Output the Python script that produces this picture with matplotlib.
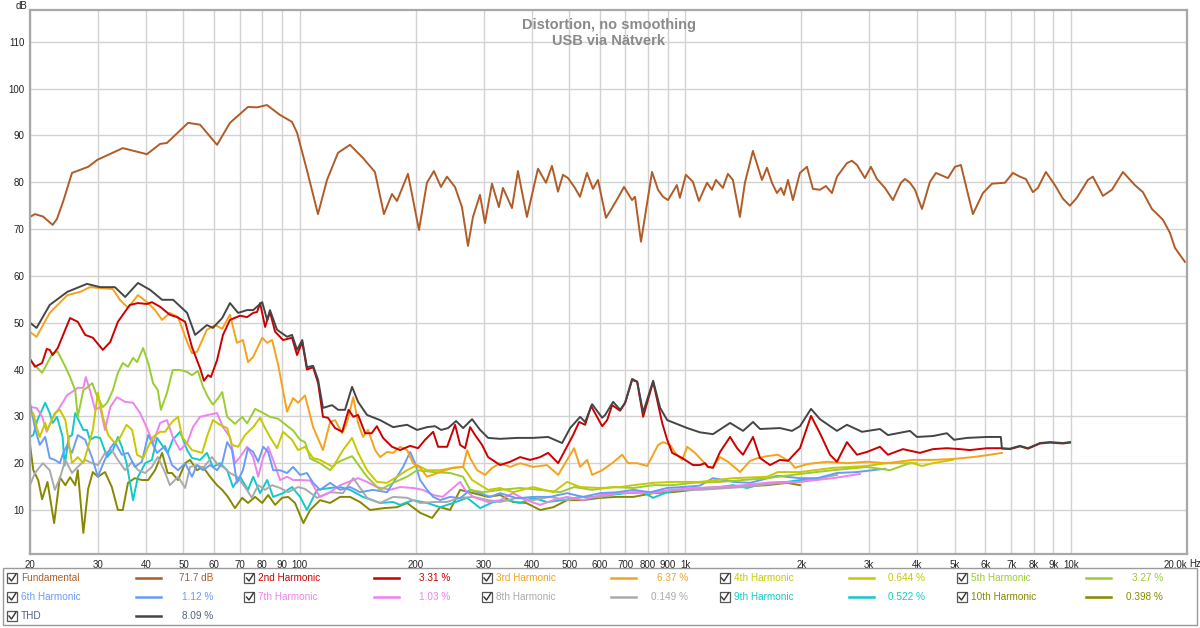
import matplotlib
matplotlib.use("Agg")
import matplotlib.pyplot as plt
from matplotlib.lines import Line2D
from matplotlib.patches import Rectangle

plt.rcParams['font.family'] = ['Liberation Sans', 'DejaVu Sans']

# ── Values (Hz, dB) ──────────────────────────────────────────────────────────
fund_f = [20.0, 20.6, 21.6, 22.9, 23.5, 24.4, 25.7, 28.3, 29.9, 34.8, 40.2, 43.5, 45.3, 51.4, 55.2,
          61.1, 66.0, 73.5, 77.6, 82.3, 88.9, 95.6, 98.5, 104.5, 111.6, 117.8, 125.8, 135.1, 146.0,
          156.8, 165.5, 173.6, 178.9, 191.0, 204.0, 213.9, 223.0, 232.6, 241.1, 252.9, 263.7, 273.3,
          281.6, 293.6, 302.5, 315.4, 328.8, 336.8, 355.4, 368.3, 388.6, 415.1, 435.4, 451.3, 467.8,
          481.9, 496.6, 517.6, 533.4, 556.1, 576.5, 594.0, 623.0, 645.8, 669.4, 693.8, 727.8, 740.9,
          767.9, 820.2, 850.1, 875.9, 902.4, 951.3, 968.5, 1004, 1047, 1085, 1139, 1173, 1201, 1252,
          1290, 1329, 1386, 1428, 1498, 1581, 1629, 1678, 1729, 1771, 1803, 1847, 1902, 1983, 2068,
          2143, 2235, 2316, 2401, 2474, 2626, 2706, 2788, 2923, 3030, 3141, 3294, 3456, 3625, 3713,
          3826, 3942, 4110, 4311, 4468, 4799, 5004, 5186, 5375, 5571, 5914, 6243, 6746, 7072, 7374,
          7643, 7969, 8211, 8613, 9088, 9532, 9938, 10364, 11068, 11403, 12106, 12774, 13643, 14650,
          15367, 16220, 17323, 18063, 18610, 19752]
fund_db = [72.6, 73.2, 72.7, 70.9, 72.2, 76.0, 82.0, 83.3, 84.8, 87.3, 86.0, 88.2, 88.4, 92.7, 92.3,
           88.0, 92.7, 96.1, 96.0, 96.5, 94.4, 92.9, 90.6, 82.6, 73.2, 80.5, 86.3, 88.0, 85.2,
           82.2, 73.2, 77.5, 76.0, 81.8, 69.8, 79.9, 82.4, 79.0, 81.2, 79.0, 74.7, 66.4,
           72.6, 77.3, 71.3, 79.7, 74.7, 78.8, 74.5, 82.4, 72.6, 82.9, 79.9, 83.5, 78.0,
           81.6, 80.9, 78.8, 76.9, 82.0, 78.6, 80.5, 72.4, 74.5, 76.7, 79.0, 76.2, 76.9,
           67.3, 82.2, 78.4, 76.9, 76.2, 79.4, 76.7, 81.6, 80.1, 76.0, 79.9, 78.4, 80.5, 78.8,
           81.8, 80.5, 72.6, 79.9, 86.7, 80.5, 83.1, 79.9, 77.7, 78.8, 77.3, 80.5, 76.2, 82.0, 83.3,
           78.6, 78.4, 79.2, 77.7, 81.2, 84.1, 84.6, 83.7, 80.9, 83.3, 80.7, 78.8, 76.2, 79.9, 80.7,
           79.9, 78.4, 74.3, 80.1, 82.0, 80.9, 83.3, 83.7, 78.4, 73.2, 77.7, 79.7, 79.9, 82.0, 81.2,
           80.7, 77.9, 78.8, 82.2, 79.4, 76.5, 75.0, 76.7, 80.5, 81.2, 77.1, 78.4, 82.2, 79.4,
           77.9, 74.3, 72.0, 69.2, 66.0, 63.0]

thd_f = [20.0, 20.8, 22.5, 25.0, 28.1, 30.4, 33.2, 35.3, 38.1, 41.0, 44.0, 47.0, 51.1, 53.6, 57.5,
         59.6, 63.0, 66.0, 69.3, 73.1, 75.8, 80.0, 82.4, 83.8, 87.4, 92.8, 95.6, 98.5, 101.6, 104.5,
         108.4, 111.7, 115.0, 121.4, 125.9, 131.2, 136.8, 141.8, 149.6, 161.7, 174.8, 190.0, 201.7,
         214.1, 224.6, 232.8, 242.7, 254.6, 265.5, 280.1, 293.9, 308.2, 331.1, 366.5, 403.3, 441.0,
         479.5, 503.0, 533.9, 550.1, 573.6, 609.0, 619.9, 650.2, 678.0, 698.5, 728.3, 750.5, 777.8,
         825.6, 860.9, 897.9, 1012, 1091, 1180, 1307, 1412, 1499, 1563, 1761, 1891, 1984, 2119, 2235,
         2474, 2626, 2873, 3198, 3354, 3825, 3988, 4388, 4770, 4975, 5376, 6058, 6580, 6625, 6950,
         7377, 7738, 8313, 8825, 9537, 9944]
thd_db = [50.0, 48.9, 53.8, 56.6, 58.3, 57.6, 57.6, 55.5, 58.5, 57.0, 54.9, 54.9, 52.1, 47.4, 49.5,
          48.9, 51.0, 54.2, 52.1, 52.7, 52.7, 54.4, 50.6, 52.7, 48.5, 47.0, 47.4, 44.2, 46.3, 40.5,
          40.8, 37.8, 31.8, 32.4, 31.4, 31.4, 36.3, 33.1, 30.3, 29.2, 27.7, 28.2, 27.1,
          27.7, 27.9, 27.1, 27.5, 29.0, 27.5, 29.4, 27.1, 25.4, 25.2, 25.4, 25.4, 25.6,
          24.3, 27.5, 29.9, 28.8, 32.6, 29.7, 30.3, 33.1, 31.4, 32.9, 38.0, 37.4, 30.9,
          37.6, 31.8, 29.2, 27.5, 26.6, 26.2, 28.6, 26.9, 28.8, 27.3, 27.5, 26.9, 27.9, 31.6, 29.4,
          26.9, 28.2, 26.7, 27.3, 26.0, 26.9, 25.6, 25.8, 26.4, 25.0, 25.4, 25.6, 25.6, 23.1, 23.1,
          23.7, 23.2, 24.3, 24.5, 24.3, 24.5]

h2_f = [20.0, 20.6, 21.5, 22.1, 22.5, 22.9, 23.6, 25.4, 26.6, 27.8, 29.1, 30.9, 32.3, 33.8, 36.3,
        38.1, 40.2, 41.4, 43.5, 46.1, 48.1, 50.5, 52.6, 55.2, 56.5, 57.9, 58.9, 61.1, 63.3, 66.0,
        70.1, 73.1, 75.8, 77.6, 79.0, 81.4, 83.8, 86.4, 90.6, 95.6, 98.5, 101.6, 104.5, 108.4, 111.7,
        115.0, 118.5, 123.6, 129.0, 134.0, 137.8, 141.8, 147.9, 153.8, 158.6, 164.6, 173.7, 182.2,
        193.5, 202.9, 211.6, 222.0, 228.7, 241.3, 253.1, 260.8, 268.7, 276.8, 285.2, 297.3, 308.2,
        331.1, 351.5, 373.1, 396.1, 420.5, 441.0, 468.3, 488.2, 511.9, 530.7, 550.1, 570.2, 590.7,
        609.0, 627.4, 646.3, 678.0, 698.5, 728.3, 750.5, 777.8, 825.6, 871.3, 897.9, 925.0, 982,
        1047, 1091, 1125, 1146, 1180, 1231, 1307, 1363, 1412, 1499, 1563, 1659, 1761, 1847, 1984,
        2119, 2235, 2373, 2474, 2626, 2788, 2959, 3198, 3354, 3668, 4060, 4388, 4770, 5156, 5473,
        6058, 6625, 6950, 7377, 7738, 8313, 8825, 9537, 9944]
h2_db = [42.3, 40.6, 41.4, 44.4, 44.2, 43.1, 44.6, 51.0, 50.2, 47.4, 46.8, 44.2, 45.9, 50.2, 53.8,
         54.2, 54.0, 54.4, 53.4, 51.7, 51.2, 50.2, 44.8, 40.3, 37.6, 38.8, 38.4, 42.0, 47.4, 50.6,
         51.5, 51.2, 52.1, 52.3, 54.2, 49.1, 52.3, 48.1, 46.3, 46.8, 43.1, 45.9, 40.0, 40.5, 37.1,
         29.9, 29.7, 27.5, 26.7, 31.4, 29.9, 30.3, 26.4, 26.4, 27.9, 25.4, 23.5, 22.8,
         23.7, 23.2, 25.0, 26.7, 23.5, 23.5, 28.2, 23.9, 23.2, 27.7, 26.0, 23.9, 21.3,
         19.6, 20.3, 21.3, 20.7, 21.3, 22.2, 20.0, 22.8, 26.0, 28.8, 28.2, 32.2, 29.9,
         27.9, 29.2, 32.4, 31.2, 32.9, 37.8, 37.4, 29.9, 37.4, 28.6, 25.0, 22.2, 21.1,
         19.6, 19.6, 20.0, 19.2, 19.0, 22.4, 25.6, 23.2, 21.8, 25.6, 21.1, 19.6, 20.7, 20.5, 23.2,
         30.1, 26.4, 21.8, 20.3, 24.5, 21.8, 22.4, 23.5, 21.8, 23.0, 22.2, 23.0, 23.2, 23.0, 22.8,
         23.2, 23.2, 23.0, 23.6, 23.1, 24.2, 24.4, 24.2, 24.4]

h3_f = [20.0, 20.8, 22.5, 25.0, 27.0, 28.6, 30.4, 32.8, 34.2, 35.9, 38.1, 40.2, 42.2, 44.0, 46.1,
        48.4, 51.1, 52.6, 54.2, 57.5, 60.4, 63.0, 66.0, 68.8, 71.3, 73.5, 75.8, 80.0, 82.4, 84.9,
        88.0, 92.8, 96.2, 99.1, 103.3, 108.4, 115.0, 120.0, 123.6, 129.0, 132.8, 137.8, 141.8, 146.0,
        150.5, 157.0, 161.7, 168.6, 174.8, 182.2, 190.0, 196.9, 205.4, 214.1, 231.4, 248.6, 265.5,
        272.0, 276.8, 288.6, 302.8, 315.8, 331.1, 351.5, 373.1, 403.3, 438.1, 468.3, 494.0, 515.0,
        533.9, 556.6, 573.6, 609.0, 646.3, 686.2, 711.2, 750.5, 796.6, 850.6, 876.6, 913.9, 941.6,
        981.9, 1012, 1060, 1091, 1146, 1180, 1231, 1291, 1387, 1473, 1544, 1629, 1740, 1869, 1926,
        2068, 2330, 2626, 2959, 3327, 3896, 4388, 4937, 5571, 6167, 6625]
h3_db = [48.0, 47.0, 52.1, 55.9, 56.6, 57.6, 57.4, 57.2, 54.9, 53.2, 55.9, 54.4, 52.7, 50.6, 52.1,
         51.2, 45.9, 43.5, 43.8, 48.5, 49.5, 48.7, 51.7, 45.7, 46.3, 41.6, 42.7, 46.8, 45.7, 46.3,
         41.0, 31.0, 33.9, 32.9, 34.5, 27.7, 22.8, 28.8, 29.2, 26.4, 28.8, 34.1, 28.6, 25.6,
         27.1, 22.8, 21.3, 22.4, 22.2, 23.5, 22.8, 20.0, 19.0, 17.1, 18.1, 19.0, 19.2,
         22.8, 21.1, 18.5, 17.5, 19.0, 20.0, 19.2, 20.0, 19.2, 19.6, 17.5, 20.7, 23.2,
         19.2, 20.7, 17.5, 18.5, 20.0, 21.8, 20.0, 20.0, 19.4, 23.9, 24.5, 23.9, 22.2,
         20.7, 23.5, 22.2, 21.1, 19.2, 19.2, 21.3, 20.3, 18.1, 20.5, 21.1, 21.5, 21.8, 20.3, 19.0,
         19.8, 20.3, 20.0, 20.3, 20.0, 20.7, 20.7, 20.9, 21.3, 21.8, 22.2]

h4_f = [20.0, 20.4, 20.8, 21.2, 21.9, 22.2, 23.2, 23.9, 24.7, 25.7, 26.6, 27.5, 28.3, 29.1, 30.0,
        30.9, 31.9, 33.2, 34.2, 35.6, 36.8, 37.9, 39.3, 40.5, 41.7, 43.5, 44.8, 46.7, 48.4, 49.6,
        52.6, 55.9, 57.5, 59.6, 62.2, 64.9, 66.8, 69.3, 72.2, 75.8, 79.0, 81.4, 83.8, 87.4, 90.6,
        95.6, 99.1, 103.3, 108.4, 113.0, 122.1, 129.6, 136.8, 141.8, 149.6, 158.6, 168.6, 178.9,
        190.0, 201.7, 214.1, 231.4, 250.1, 265.5, 280.1, 308.2, 331.1, 357.6, 403.3, 454.9, 494.0,
        533.9, 601.7, 678.0, 734.1, 825.6, 925.0, 1047, 1091, 1333, 1629, 1740, 1984, 2415, 2959,
        3327, 3604, 3896, 4110, 4388, 4937]
h4_db = [29.9, 30.7, 27.7, 25.6, 28.6, 27.1, 30.7, 31.4, 29.2, 20.0, 21.3, 20.0, 23.5, 27.1, 35.0,
         29.9, 26.0, 24.3, 25.4, 28.2, 27.1, 21.8, 21.1, 23.5, 25.6, 26.7, 26.7, 28.8, 29.9, 25.6,
         22.8, 22.2, 25.6, 29.2, 28.2, 27.5, 23.9, 23.5, 26.0, 27.7, 29.7, 27.5, 25.6, 23.2, 26.7,
         25.0, 22.8, 23.5, 21.1, 20.7, 19.2, 22.8, 25.4, 22.2, 18.5, 16.0, 15.8, 17.1,
         18.5, 19.6, 18.5, 18.5, 19.0, 19.2, 16.4, 14.3, 14.7, 13.8, 14.9, 13.8, 16.0,
         14.9, 14.7, 14.9, 15.3, 15.8, 16.0, 16.0, 16.0, 16.8, 17.1, 18.1, 18.1, 19.0, 19.4,
         20.0, 20.0, 20.0, 19.4, 20.0, 20.7]

h5_f = [20.0, 21.5, 22.9, 23.6, 24.7, 25.4, 26.2, 26.6, 27.5, 28.1, 29.0, 29.9, 30.9, 31.7, 32.8,
        33.8, 34.8, 35.9, 37.0, 37.9, 39.3, 40.5, 41.7, 42.9, 43.7, 45.3, 46.9, 49.0, 51.1, 52.6,
        54.5, 56.2, 57.9, 59.6, 61.5, 63.0, 64.9, 68.0, 71.0, 73.1, 76.7, 80.5, 83.8, 88.0, 93.4,
        96.2, 100.3, 103.3, 106.5, 108.4, 113.0, 120.0, 124.4, 129.6, 136.8, 149.6, 161.7, 174.8,
        190.0, 201.7, 222.0, 245.7, 265.5, 276.8, 299.2, 331.1, 373.1, 420.5, 473.8, 515.0, 573.6,
        650.2, 734.1, 825.6, 925.0, 1047, 1231, 1412, 1629, 1984, 2415, 2959, 3395, 3825, 3988]
h5_db = [42.0, 39.3, 43.5, 43.8, 40.6, 38.4, 35.6, 29.9, 35.6, 36.1, 37.1, 34.1, 32.0, 32.9, 35.6,
         39.3, 41.4, 40.6, 42.5, 41.6, 44.6, 41.4, 37.1, 35.6, 31.4, 35.0, 39.9, 39.9, 39.5, 38.8,
         39.7, 36.3, 34.1, 32.5, 33.9, 35.2, 29.9, 28.4, 29.9, 28.5, 31.6, 30.7, 29.9, 29.5, 27.8,
         27.0, 25.0, 24.5, 21.0, 20.7, 20.0, 18.5, 20.0, 20.7, 21.5, 17.1, 14.3, 15.8,
         17.1, 18.5, 18.1, 17.9, 17.1, 14.3, 13.8, 14.3, 14.7, 14.3, 13.8, 14.9, 14.3,
         14.9, 14.7, 15.3, 15.3, 15.8, 16.0, 16.4, 16.8, 17.7, 18.5, 19.2, 18.5, 20.0, 20.0]

h6_f = [20.0, 20.6, 21.2, 21.9, 22.5, 23.2, 23.9, 24.4, 25.0, 25.7, 26.6, 27.8, 29.0, 30.0, 31.1,
        32.3, 33.2, 34.6, 35.9, 37.4, 39.0, 40.5, 42.7, 44.8, 46.7, 48.4, 50.5, 52.6, 54.2, 56.2,
        58.6, 61.1, 63.0, 64.9, 66.8, 68.8, 71.3, 73.5, 75.8, 78.1, 80.5, 82.9, 85.4, 89.0, 92.8,
        96.2, 100.3, 104.5, 108.4, 113.0, 120.0, 127.4, 135.2, 143.5, 155.0, 168.6, 178.9, 185.6,
        193.5, 199.3, 205.4, 214.1, 222.0, 231.4, 245.7, 260.8, 276.8, 293.9, 311.9, 331.1, 366.5,
        403.3, 446.3, 494.0, 543.6, 601.7, 666.0, 734.1, 811.0, 897.9, 982, 1091, 1180, 1333, 1473,
        1729, 1984, 2197, 2474, 2788, 3060, 3295]
h6_db = [32.9, 27.5, 23.9, 25.6, 21.1, 20.7, 20.0, 22.2, 23.9, 22.2, 26.0, 25.0, 21.1, 17.1, 20.3,
         23.2, 24.5, 21.8, 22.2, 19.2, 20.3, 26.0, 22.2, 23.7, 19.6, 18.5, 20.0, 17.1, 19.6, 18.5,
         19.6, 18.5, 20.0, 24.5, 22.8, 15.8, 18.5, 23.2, 22.4, 20.3, 23.5, 22.4, 18.5, 18.5, 17.9,
         19.2, 17.5, 17.9, 15.8, 14.3, 15.8, 14.3, 14.9, 13.8, 14.3, 13.8, 17.1, 19.2,
         22.4, 20.0, 16.4, 14.3, 12.8, 12.1, 12.8, 12.5, 14.3, 13.6, 12.8, 13.6, 12.5,
         12.8, 12.8, 13.6, 12.8, 13.6, 13.8, 14.3, 13.8, 14.7, 14.9, 15.2, 16.8, 16.0, 15.8,
         17.3, 16.8, 16.8, 17.9, 18.1, 18.5, 18.8]

h7_f = [20.0, 20.8, 21.5, 22.1, 22.9, 23.9, 25.0, 25.7, 26.6, 27.5, 27.9, 28.6, 29.5, 30.4, 31.3,
        32.3, 33.6, 35.3, 37.0, 38.6, 40.2, 41.7, 43.5, 45.3, 46.9, 49.0, 51.1, 52.9, 55.2, 57.9,
        61.1, 63.3, 66.0, 68.0, 70.1, 73.1, 75.8, 78.1, 80.5, 82.9, 85.4, 89.0, 92.8, 96.2, 100.3,
        106.5, 113.0, 120.0, 127.4, 141.8, 149.6, 158.6, 171.7, 182.2, 196.9, 208.8, 222.0, 235.0,
        260.8, 268.7, 282.0, 308.2, 331.1, 357.6, 387.0, 420.5, 454.9, 494.0, 543.6, 601.7, 666.0,
        734.1, 825.6, 925.0, 1047, 1091, 1333, 1629, 1984, 2415, 2838]
h7_db = [32.0, 31.8, 29.9, 26.7, 29.7, 32.0, 34.6, 35.2, 36.1, 36.1, 38.4, 35.6, 31.4, 32.0, 27.1,
         32.0, 34.1, 33.1, 32.9, 30.7, 27.5, 24.3, 28.6, 29.2, 25.6, 22.8, 24.3, 27.7, 29.9, 30.3,
         30.7, 27.7, 25.6, 20.0, 21.3, 23.5, 21.3, 17.1, 21.3, 23.5, 20.7, 16.4, 17.1, 16.4, 16.4,
         16.3, 12.8, 13.8, 15.3, 16.8, 16.0, 14.9, 14.3, 14.9, 14.7, 14.3, 13.2, 12.8,
         16.0, 14.3, 12.8, 11.7, 12.1, 13.6, 12.1, 11.1, 12.1, 12.8, 12.1, 13.2, 13.6,
         13.8, 13.6, 14.3, 14.7, 14.7, 15.1, 15.8, 16.0, 16.8, 17.7]

h8_f = [20.0, 20.6, 21.6, 22.5, 23.2, 23.9, 24.7, 25.7, 26.6, 27.8, 29.0, 30.0, 31.3, 32.6, 33.8,
        35.3, 36.8, 38.1, 39.8, 41.4, 42.9, 44.8, 46.1, 48.4, 50.5, 52.0, 54.2, 56.2, 59.3, 61.5,
        63.3, 66.0, 68.8, 72.2, 75.2, 78.1, 81.4, 84.9, 89.0, 93.4, 99.1, 103.3, 111.0, 120.0,
        129.6, 137.8, 149.6, 161.7, 174.8, 190.0, 205.4, 222.0, 240.9, 260.8, 282.0, 308.2, 331.1,
        366.5, 403.3, 446.3, 494.0, 543.6, 601.7, 666.0, 734.1, 825.6, 925.0, 1047, 1091, 1412,
        1761, 1984, 2235, 2474]
h8_db = [15.3, 17.9, 20.0, 18.5, 14.3, 16.8, 20.7, 17.9, 19.2, 20.7, 20.0, 19.6, 22.2, 22.8, 20.7,
         18.5, 20.3, 18.5, 17.9, 19.2, 21.3, 18.0, 15.3, 17.1, 14.7, 19.2, 19.6, 19.0, 21.3, 19.6,
         19.2, 17.9, 17.1, 14.9, 12.6, 15.3, 14.3, 15.3, 14.7, 13.8, 14.9, 14.5, 12.6, 13.8,
         13.6, 16.8, 12.6, 11.5, 12.8, 12.6, 11.5, 11.7, 11.7, 12.6, 12.8, 12.1, 11.7,
         12.6, 12.1, 12.8, 12.1, 12.8, 12.8, 13.6, 13.6, 13.8, 14.3, 14.3, 14.3, 14.9,
         15.8, 16.0, 16.8, 17.5]

h9_f = [20.0, 20.4, 20.9, 21.9, 22.5, 22.9, 23.5, 24.3, 24.6, 25.2, 25.7, 26.2, 27.5, 28.1, 28.6,
        29.5, 30.4, 31.7, 32.8, 33.8, 34.6, 35.6, 37.0, 38.1, 39.8, 41.4, 42.7, 44.3, 45.5, 46.9,
        49.0, 51.1, 52.6, 55.2, 57.5, 59.6, 62.2, 64.9, 67.2, 70.1, 73.5, 75.8, 79.0, 82.4, 85.4,
        90.6, 95.6, 100.3, 104.5, 111.0, 120.0, 127.4, 135.2, 146.0, 161.7, 174.8, 182.2, 196.9,
        214.1, 231.4, 250.1, 272.0, 293.9, 317.6, 344.6, 373.1, 403.3, 438.1, 482.4, 533.9, 573.6,
        638.7, 703.0, 777.8, 825.6, 897.9, 982, 1091, 1180, 1333, 1445, 1629, 1836, 1984, 2106, 2213]
h9_db = [25.6, 26.0, 29.2, 32.9, 30.7, 28.6, 29.9, 25.6, 19.5, 25.6, 26.0, 30.7, 27.1, 27.1, 25.0,
         25.6, 25.4, 21.3, 22.8, 25.6, 23.5, 20.0, 12.1, 17.1, 20.0, 20.7, 25.4, 23.5, 22.2, 25.0,
         26.7, 22.8, 21.1, 20.7, 22.2, 19.2, 20.0, 18.5, 14.9, 17.1, 14.3, 17.1, 13.6, 16.4, 12.8,
         13.6, 14.9, 12.8, 10.0, 14.3, 14.7, 14.9, 14.3, 12.8, 11.5, 11.7, 11.1, 12.1,
         11.5, 10.6, 11.5, 12.6, 10.4, 11.7, 12.1, 11.5, 12.6, 11.7, 12.1, 12.8, 12.6,
         13.2, 13.6, 13.8, 12.6, 13.8, 14.3, 14.5, 14.7, 15.3, 14.7, 15.8, 16.0, 16.4, 16.4, 16.5]

h10_f = [20.0, 20.4, 21.0, 21.5, 22.2, 23.1, 23.9, 24.7, 25.4, 26.2, 26.6, 27.5, 28.3, 29.1, 30.0,
         31.3, 32.6, 33.8, 34.8, 35.9, 37.4, 39.0, 40.5, 42.2, 44.0, 45.5, 46.7, 48.4, 50.5, 52.0,
         54.2, 56.2, 58.6, 61.1, 63.0, 65.2, 68.0, 71.0, 73.5, 76.7, 80.0, 82.9, 86.4, 90.1, 93.4,
         97.3, 102.3, 106.5, 113.0, 120.0, 127.4, 135.2, 143.5, 152.3, 165.6, 178.9, 190.0, 205.4,
         220.6, 231.4, 245.7, 260.8, 282.0, 308.2, 331.1, 357.6, 387.0, 420.5, 454.9, 494.0, 543.6,
         601.7, 666.0, 734.1, 825.6, 925.0, 1047, 1091, 1333, 1629, 1836, 1984]
h10_db = [24.0, 18.5, 16.4, 12.3, 16.0, 7.2, 17.0, 15.3, 17.0, 15.3, 18.5, 5.1, 14.5, 18.1, 17.1,
          18.1, 14.9, 10.0, 10.0, 15.8, 16.8, 16.4, 16.4, 18.5, 22.2, 17.9, 17.9, 16.4, 20.0, 20.7,
          18.5, 19.2, 17.1, 15.3, 14.3, 12.8, 10.4, 12.6, 11.5, 12.8, 11.5, 13.2, 11.1, 12.6, 12.8,
          11.5, 7.2, 10.0, 12.1, 11.5, 12.8, 12.8, 11.7, 10.0, 10.4, 10.6, 11.5, 9.4,
          8.3, 10.6, 10.0, 14.3, 13.6, 12.8, 13.2, 11.7, 11.5, 10.0, 10.6, 12.1, 12.1,
          12.6, 12.8, 12.8, 13.6, 13.8, 14.3, 14.7, 14.9, 15.3, 15.8, 15.3]

# legend: name, read-out value, colour
names = ['Fundamental', '2nd Harmonic', '3rd Harmonic', '4th Harmonic', '5th Harmonic',
         '6th Harmonic', '7th Harmonic', '8th Harmonic', '9th Harmonic', '10th Harmonic', 'THD']
readouts = ['71.7 dB', '3.31 %', '6.37 %', '0.644 %', '3.27 %',
            '1.12 %', '1.03 %', '0.149 %', '0.522 %', '0.398 %', '8.09 %']
colors = ['#b05c28', '#cc0000', '#f5a21c', '#c8c800', '#9acd32',
          '#6b9cf5', '#ee82ee', '#aaaaaa', '#13c8c8', '#878700', '#454545']
text_colors = colors[:10] + ['#52627a']

x_ticks = [20, 30, 40, 50, 60, 70, 80, 90, 100, 200, 300, 400, 500, 600, 700, 800, 900,
           1000, 2000, 3000, 4000, 5000, 6000, 7000, 8000, 9000, 10000, 20000]
x_labels = ['20', '30', '40', '50', '60', '70', '80', '90', '100', '200', '300', '400', '500',
            '600', '700', '800', '900', '1k', '2k', '3k', '4k', '5k', '6k', '7k', '8k', '9k',
            '10k', '20.0k']
y_ticks = [10, 20, 30, 40, 50, 60, 70, 80, 90, 100, 110]

W, H = 1200, 628
fig = plt.figure(figsize=(W / 100, H / 100), dpi=100)
fig.patch.set_facecolor('white')


def fx(px):
    return px / W


def fy(py):
    return 1 - py / H


ax = fig.add_axes([fx(30), fy(554), fx(1187) - fx(30), fy(10) - fy(554)])

# harmonics first, THD and fundamental on top
curves = [(h10_f, h10_db, 9), (h9_f, h9_db, 8), (h8_f, h8_db, 7), (h7_f, h7_db, 6),
          (h6_f, h6_db, 5), (h5_f, h5_db, 4), (h4_f, h4_db, 3), (h3_f, h3_db, 2),
          (h2_f, h2_db, 1), (thd_f, thd_db, 10), (fund_f, fund_db, 0)]
for f, db, i in curves:
    ax.plot(f, db, color=colors[i], lw=1.4, solid_joinstyle='round')

ax.set_xscale('log')
ax.set_xlim(20, 20000)
ax.set_ylim(0.6, 116.8)
ax.set_xticks(x_ticks)
ax.set_xticklabels(x_labels)
ax.xaxis.set_minor_locator(plt.NullLocator())
ax.set_yticks(y_ticks)
ax.tick_params(length=0, labelsize=7, colors='#222222')
ax.tick_params(axis='x', pad=4)
ax.tick_params(axis='y', pad=4)
ax.get_xticklabels()[-1].set_horizontalalignment('right')
ax.grid(True, color='#d2d2d2', lw=1.0)
ax.set_axisbelow(True)
for s in ax.spines.values():
    s.set_color('#a8a8a8')
    s.set_linewidth(1.6)

fig.text(fx(1189), fy(564), 'Hz', ha='left', va='center', fontsize=7, color='#222222')

ax.text(0.5, 0.985, 'Distortion, no smoothing\nUSB via Nätverk', transform=ax.transAxes,
        ha='center', va='top', fontsize=10.5, fontweight='bold', color='#8a8a8a',
        linespacing=1.15)
fig.text(fx(21), fy(6), 'dB', ha='center', va='center', fontsize=7, color='#222222')

# legend panel
fig.patches.append(Rectangle((fx(3), fy(625)), fx(1197) - fx(3), fy(568) - fy(625),
                             transform=fig.transFigure, fc='white', ec='#9a9a9a', lw=1.0))
row_y = [578, 597, 616]
for i, name in enumerate(names):
    col, row = i % 5, i // 5
    bx = 10 + 237.5 * col
    yy = row_y[row]
    fig.patches.append(Rectangle((fx(bx - 3), fy(yy + 5)), fx(10), fy(0) - fy(10),
                                 transform=fig.transFigure, fc='white', ec='#555555', lw=0.9))
    fig.lines.append(Line2D([fx(bx - 1), fx(bx + 1.5), fx(bx + 6)],
                            [fy(yy), fy(yy + 3), fy(yy - 4)],
                            transform=fig.transFigure, color='#333333', lw=1.0))
    fig.text(fx(bx + 11), fy(yy), name, ha='left', va='center', fontsize=7.2,
             color=text_colors[i])
    fig.lines.append(Line2D([fx(bx + 126), fx(bx + 151)], [fy(yy), fy(yy)],
                            transform=fig.transFigure, color=colors[i], lw=1.8))
    fig.text(fx(bx + 203), fy(yy), readouts[i], ha='right', va='center', fontsize=7.2,
             color=text_colors[i])

fig.savefig('out.png', dpi=100)
